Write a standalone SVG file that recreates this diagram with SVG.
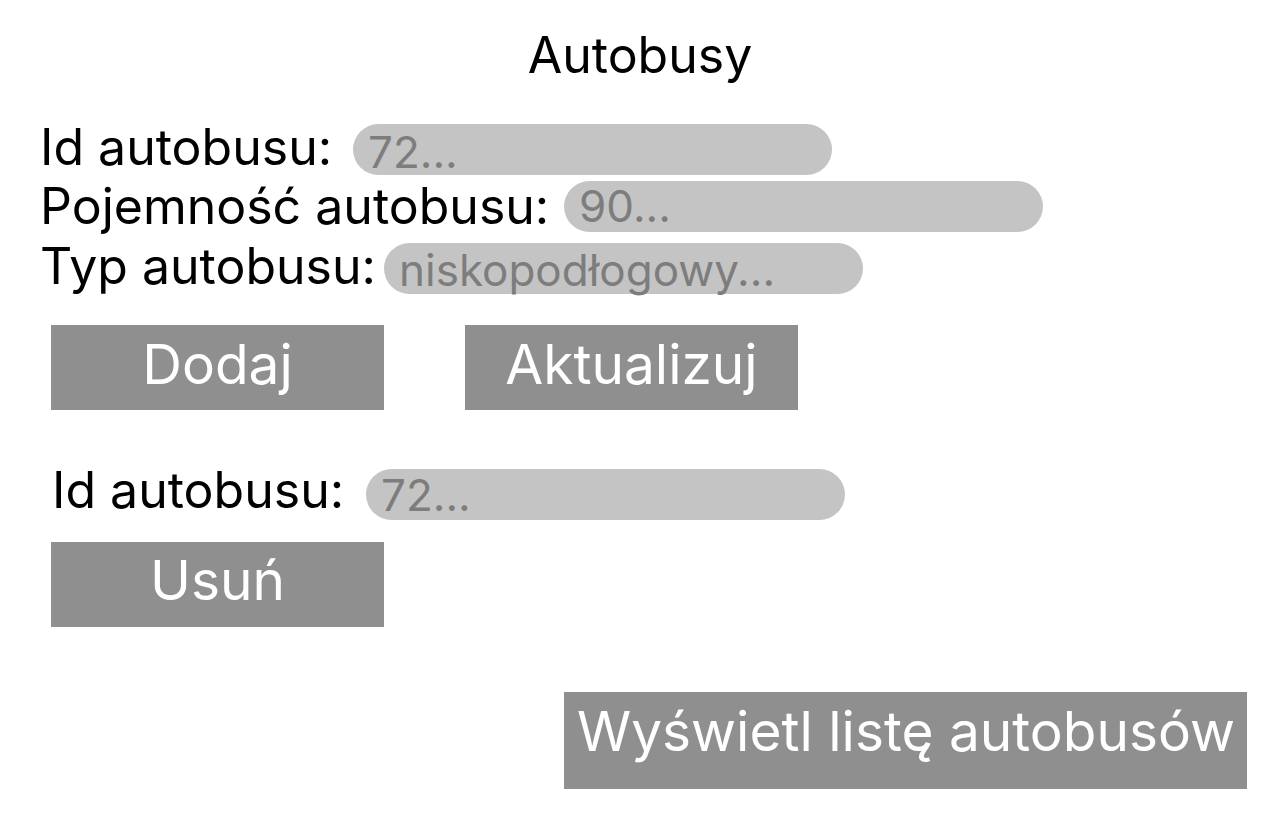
<svg xmlns="http://www.w3.org/2000/svg" width="1280" height="832" viewBox="0 0 1280 832">
<style>
text{font-family:Inter,"Noto Sans","Liberation Sans",sans-serif}
.lbl{font-size:50px;fill:#000}
.ttl{font-size:50px;fill:#000;text-anchor:middle}
.ph{font-size:44px;fill:#7d7d7d}
.pill{fill:#c4c4c4}
.btn{fill:#8f8f8f}
.bt{font-size:55px;fill:#fff;text-anchor:middle}
</style>
<rect width="1280" height="832" fill="#fff"/>
<g id="title"><text class="ttl" x="640" y="73">Autobusy</text></g>
<g id="field-id">
<text class="lbl" x="40" y="165">Id autobusu:</text>
<rect class="pill" x="353" y="124" width="479" height="51" rx="25.5"/>
<text class="ph" x="368" y="168">72...</text>
</g>
<g id="field-capacity">
<text class="lbl" x="40" y="224">Pojemność autobusu:</text>
<rect class="pill" x="564" y="181" width="479" height="51" rx="25.5"/>
<text class="ph" x="579" y="222">90...</text>
</g>
<g id="field-type">
<text class="lbl" x="40" y="284">Typ autobusu:</text>
<rect class="pill" x="384" y="243" width="479" height="51" rx="25.5"/>
<text class="ph" x="399" y="286">niskopodłogowy...</text>
</g>
<g id="btn-add">
<rect class="btn" x="51" y="325" width="333" height="85"/>
<text class="bt" x="217.5" y="384">Dodaj</text>
</g>
<g id="btn-update">
<rect class="btn" x="465" y="325" width="333" height="85"/>
<text class="bt" x="631.5" y="384">Aktualizuj</text>
</g>
<g id="field-id-delete">
<text class="lbl" x="52" y="508">Id autobusu:</text>
<rect class="pill" x="366" y="469" width="479" height="51" rx="25.5"/>
<text class="ph" x="381" y="511">72...</text>
</g>
<g id="btn-delete">
<rect class="btn" x="51" y="542" width="333" height="85"/>
<text class="bt" x="217.5" y="600">Usuń</text>
</g>
<g id="btn-list">
<rect class="btn" x="564" y="692" width="683" height="97"/>
<text class="bt" x="906" y="751">Wyświetl listę autobusów</text>
</g>
<g id="connectors"/>
</svg>
